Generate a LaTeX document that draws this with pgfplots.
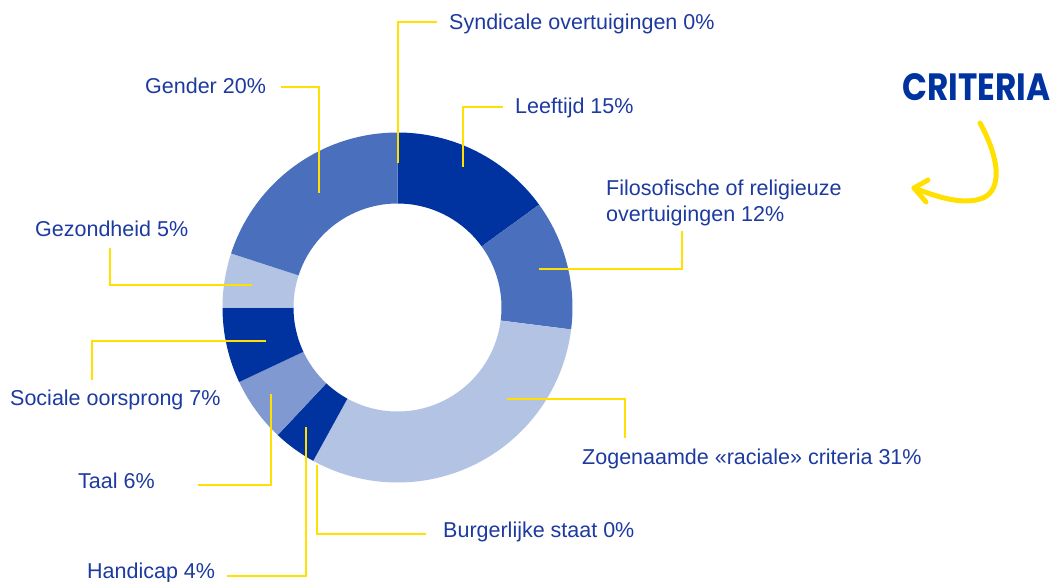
\documentclass[border=0pt]{standalone}
\usepackage{pgfplots}
\pgfplotsset{compat=1.18}
\usepackage{fontspec}
\setmainfont{Liberation Sans}
\newfontfamily\logofont{Poppins}
\definecolor{cdark}{RGB}{0,51,160}
\definecolor{cmed}{RGB}{74,112,189}
\definecolor{clight}{RGB}{179,195,227}
\definecolor{cmid}{RGB}{128,153,209}
\definecolor{ctext}{RGB}{28,58,160}
\definecolor{cyel}{RGB}{255,224,0}
% donut geometry (pixel units): centre, outer and inner radius
\def\cx{397.5}\def\cy{307.5}\def\Ro{175}\def\Ri{104}
% #1 macro, #2 cumulative start (%), #3 cumulative end (%)
\newcommand\mkseg[3]{%
  \pgfmathsetmacro\sA{3.6*#2}\pgfmathsetmacro\sB{3.6*#3}%
  \pgfmathtruncatemacro\nn{max(2,ceil((\sB-\sA)/1.5))}%
  \gdef\tmplist{}%
  \foreach \i in {0,...,\nn}{%
    \pgfmathsetmacro\ang{\sA+(\sB-\sA)*\i/\nn}%
    \pgfmathsetmacro\px{\cx+\Ro*sin(\ang)}%
    \pgfmathsetmacro\py{\cy-\Ro*cos(\ang)}%
    \xdef\tmplist{\tmplist (\px,\py)}}%
  \foreach \i in {\nn,...,0}{%
    \pgfmathsetmacro\ang{\sA+(\sB-\sA)*\i/\nn}%
    \pgfmathsetmacro\px{\cx+\Ri*sin(\ang)}%
    \pgfmathsetmacro\py{\cy-\Ri*cos(\ang)}%
    \xdef\tmplist{\tmplist (\px,\py)}}%
  \global\let#1\tmplist}
% shares (%), clockwise from the top:
% Syndicale 0, Leeftijd 15, Filosofische 12, Raciale 31, Burgerlijke 0,
% Handicap 4, Taal 6, Sociale 7, Gezondheid 5, Gender 20
\mkseg\segLeef{0}{15}
\mkseg\segFilo{15}{27}
\mkseg\segRac{27}{58}
\mkseg\segHand{58}{62}
\mkseg\segTaal{62}{68}
\mkseg\segSoc{68}{75}
\mkseg\segGez{75}{80}
\mkseg\segGen{80}{100}
\newcommand\drawseg[2]{\edef\temp{\noexpand\addplot[fill=#2,draw=none,line width=0pt,mark=none] coordinates {#1};}\temp}
\pgfplotsset{leader/.style={cyel, line width=1.4pt, mark=none, solid}}
\begin{document}
\begin{tikzpicture}
\begin{axis}[name=ax,
  scale only axis, width=1052pt, height=581pt,
  xmin=0, xmax=1052, ymin=0, ymax=581, y dir=reverse,
  hide axis, clip=false]
\drawseg{\segLeef}{cdark}
\drawseg{\segFilo}{cmed}
\drawseg{\segRac}{clight}
\drawseg{\segHand}{cdark}
\drawseg{\segTaal}{cmid}
\drawseg{\segSoc}{cdark}
\drawseg{\segGez}{clight}
\drawseg{\segGen}{cmed}
% leader lines
\addplot[leader] coordinates {(398,163) (398,22) (437,22)};
\addplot[leader] coordinates {(463,167) (463,107) (503,107)};
\addplot[leader] coordinates {(319,193) (319,87) (281,87)};
\addplot[leader] coordinates {(539,269) (682,269) (682,231)};
\addplot[leader] coordinates {(252,285) (110,285) (110,248)};
\addplot[leader] coordinates {(266,341) (92,341) (92,380)};
\addplot[leader] coordinates {(271,394) (271,485) (198,485)};
\addplot[leader] coordinates {(306,427) (306,576) (227,576)};
\addplot[leader] coordinates {(317,465) (317,534) (426,534)};
\addplot[leader] coordinates {(507,399) (625,399) (625,438)};
% labels
\begin{scope}[every node/.style={anchor=base west, inner sep=0pt, text=ctext, font=\fontsize{21.5}{25}\selectfont}]
\node at (axis cs:449,29) {Syndicale overtuigingen 0\%};
\node at (axis cs:515,113) {Leeftijd 15\%};
\node at (axis cs:145,93) {Gender 20\%};
\node at (axis cs:606,195) {Filosofische of religieuze};
\node at (axis cs:606,221) {overtuigingen 12\%};
\node at (axis cs:35,236) {Gezondheid 5\%};
\node at (axis cs:10,405) {Sociale oorsprong 7\%};
\node at (axis cs:78,488) {Taal 6\%};
\node at (axis cs:87,578) {Handicap 4\%};
\node at (axis cs:443,537) {Burgerlijke staat 0\%};
\node at (axis cs:582,464) {Zogenaamde «raciale» criteria 31\%};
\end{scope}
% logo
\node[anchor=base west, inner sep=0pt, text=cdark] at (axis cs:902,100)
  {\resizebox{148pt}{27pt}{\logofont\bfseries CRITERIA}};
\draw[cyel, line width=5pt, line cap=round, line join=round]
  (axis cs:980,123) .. controls (axis cs:995,150) and (axis cs:1005,185) .. (axis cs:985,197)
  .. controls (axis cs:965,207) and (axis cs:935,196) .. (axis cs:914,188);
\draw[cyel, line width=5pt, line cap=round, line join=round]
  (axis cs:928,180) -- (axis cs:914,188) -- (axis cs:926,202);
\end{axis}
\pgfresetboundingbox
\path (ax.south west) rectangle (ax.north east);
\end{tikzpicture}
\end{document}
